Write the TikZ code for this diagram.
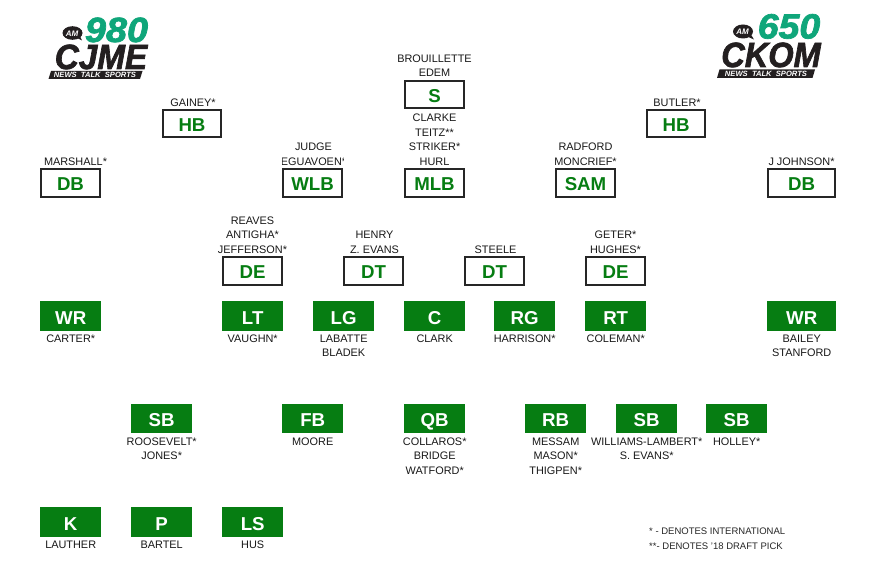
\documentclass[tikz,border=0pt]{standalone}
\usepackage{fontspec}
\setmainfont{Liberation Sans}
\newfontfamily\logofont{Liberation Sans}[BoldFeatures={FakeBold=2},BoldItalicFeatures={FakeBold=2}]
\definecolor{posgreen}{HTML}{067D12}
\definecolor{logogreen}{HTML}{0FA67A}
\definecolor{logoblack}{HTML}{231F20}
\tikzset{x=1pt,y=-1pt,
 defbox/.style={draw=black!85,line width=2pt,fill=white,text=posgreen,font=\fontsize{18.67}{20}\selectfont\bfseries,anchor=north west,inner sep=0pt,align=center,text height=15.5pt,text depth=0pt},
 offbox/.style={fill=posgreen,text=white,font=\fontsize{18.67}{20}\selectfont\bfseries,anchor=north west,inner sep=0pt,align=center,text height=16pt,text depth=0pt},
 names/.style={font=\fontsize{10.9}{14.7}\selectfont,text=black!90,inner sep=0pt,align=center},
 note/.style={font=\fontsize{9.5}{12}\selectfont,text=black!85,inner sep=0pt,anchor=base west},
 logonum/.style={font=\logofont\fontsize{35}{35}\selectfont\bfseries\itshape,text=logogreen,inner sep=0pt,anchor=base},
 logoname/.style={font=\logofont\fontsize{35}{35}\selectfont\bfseries\itshape,text=logoblack,inner sep=0pt,anchor=base},
 logotag/.style={font=\fontsize{7.6}{8}\selectfont\bfseries\itshape,text=white,inner sep=0pt},
 logoam/.style={font=\fontsize{8}{8}\selectfont\bfseries\itshape,text=white,inner sep=0pt},
}
\newcommand{\dbox}[6]{\node[defbox,minimum width=#4pt-2pt,minimum height=#5pt-2pt] (#1) at (#2,#3) {#6};}
\newcommand{\obox}[6]{\node[offbox,minimum width=#4pt,minimum height=#5pt] (#1) at (#2,#3) {#6};}
\begin{document}
\begin{tikzpicture}
\useasboundingbox (0,0) rectangle (885,564);
\fill[white] (0,0) rectangle (885,564);
% logos
\fill[logoblack] (72.5,33) ellipse (10 and 6.8);
\fill[logoblack] (75,37) -- (82,40.5) -- (79,34) -- cycle;
\node[logoam] (am1) at (72,33.3) {AM};
\node[logonum,xscale=1.08] (n1) at (116.5,42) {980};
\node[logoname,xscale=0.95] (c1) at (101,69) {CJME};
\fill[logoblack] (51,71) -- (142.5,71) -- (140,79) -- (48.5,79) -- cycle;
\node[logotag] (t1) at (95,75) {NEWS\ \ TALK\ \ SPORTS};
\fill[logoblack] (743,31.5) ellipse (10 and 7);
\fill[logoblack] (746,36) -- (754,39.5) -- (750,33) -- cycle;
\node[logoam] (am2) at (742.5,32) {AM};
\node[logonum,xscale=1.07] (n2) at (789,38.5) {650};
\node[logoname,xscale=0.93] (c2) at (771,67) {CKOM};
\fill[logoblack] (719.5,69.5) -- (815,69.5) -- (812.5,78) -- (717,78) -- cycle;
\node[logotag] (t2) at (766,74) {NEWS\ \ TALK\ \ SPORTS};
% defence
\dbox{s}{404}{80}{61}{29}{S}
\dbox{hbl}{162}{109}{60}{29}{HB}
\dbox{hbr}{646}{109}{60}{29}{HB}
\dbox{dbl}{40}{168}{61}{30}{DB}
\dbox{wlb}{282}{168}{61}{30}{WLB}
\dbox{mlb}{404}{168}{61}{30}{MLB}
\dbox{sam}{555}{168}{61}{30}{SAM}
\dbox{dbr}{767}{168}{69}{30}{DB}
\dbox{del}{222}{256}{61}{30}{DE}
\dbox{dtl}{343}{256}{61}{30}{DT}
\dbox{dtr}{464}{256}{61}{30}{DT}
\dbox{der}{585}{256}{61}{30}{DE}
% offence
\obox{wrl}{40}{301}{61}{30}{WR}
\obox{lt}{222}{301}{61}{30}{LT}
\obox{lg}{313}{301}{61}{30}{LG}
\obox{c}{404}{301}{61}{30}{C}
\obox{rg}{494}{301}{61}{30}{RG}
\obox{rt}{585}{301}{61}{30}{RT}
\obox{wrr}{767}{301}{69}{30}{WR}
\obox{sbl}{131}{404}{61}{29}{SB}
\obox{fb}{282}{404}{61}{29}{FB}
\obox{qb}{404}{404}{61}{29}{QB}
\obox{rb}{525}{404}{61}{29}{RB}
\obox{sbm}{616}{404}{61}{29}{SB}
\obox{sbr}{706}{404}{61}{29}{SB}
\obox{k}{40}{507}{61}{30}{K}
\obox{p}{131}{507}{61}{30}{P}
\obox{ls}{222}{507}{61}{30}{LS}
% names above
\node[names,anchor=south] (ns) at ([yshift=3pt]s.north) {BROUILLETTE\\EDEM};
\node[names,anchor=south] (nhbl) at ([xshift=1pt,yshift=2pt]hbl.north) {GAINEY*};
\node[names,anchor=south] (nhbr) at ([xshift=1pt,yshift=2pt]hbr.north) {BUTLER*};
\node[names,anchor=south] (ndbl) at ([xshift=5pt,yshift=2pt]dbl.north) {MARSHALL*};
\begin{scope}
\clip (282,135) rectangle (343,168);
\node[names,anchor=south] (nwlb) at ([xshift=1pt,yshift=2pt]wlb.north) {JUDGE\\EGUAVOEN*};
\end{scope}
\node[names,anchor=south] (nmlb) at ([yshift=2pt]mlb.north) {CLARKE\\TEITZ**\\STRIKER*\\HURL};
\node[names,anchor=south] (nsam) at ([yshift=2pt]sam.north) {RADFORD\\MONCRIEF*};
\node[names,anchor=south] (ndbr) at ([yshift=2pt]dbr.north) {J JOHNSON*};
\node[names,anchor=south] (ndel) at ([yshift=2pt]del.north) {REAVES\\ANTIGHA*\\JEFFERSON*};
\node[names,anchor=south] (ndtl) at ([xshift=1pt,yshift=2pt]dtl.north) {HENRY\\Z. EVANS};
\node[names,anchor=south] (ndtr) at ([xshift=1pt,yshift=2pt]dtr.north) {STEELE};
\node[names,anchor=south] (nder) at ([yshift=2pt]der.north) {GETER*\\HUGHES*};
% names below
\node[names,anchor=north] (nwrl) at ([yshift=-3pt]wrl.south) {CARTER*};
\node[names,anchor=north] (nlt) at ([yshift=-3pt]lt.south) {VAUGHN*};
\node[names,anchor=north] (nlg) at ([yshift=-3pt]lg.south) {LABATTE\\BLADEK};
\node[names,anchor=north] (nc) at ([yshift=-3pt]c.south) {CLARK};
\node[names,anchor=north] (nrg) at ([yshift=-3pt]rg.south) {HARRISON*};
\node[names,anchor=north] (nrt) at ([yshift=-3pt]rt.south) {COLEMAN*};
\node[names,anchor=north] (nwrr) at ([yshift=-3pt]wrr.south) {BAILEY\\STANFORD};
\node[names,anchor=north] (nsbl) at ([yshift=-4pt]sbl.south) {ROOSEVELT*\\JONES*};
\node[names,anchor=north] (nfb) at ([yshift=-4pt]fb.south) {MOORE};
\node[names,anchor=north] (nqb) at ([yshift=-4pt]qb.south) {COLLAROS*\\BRIDGE\\WATFORD*};
\node[names,anchor=north] (nrb) at ([yshift=-4pt]rb.south) {MESSAM\\MASON*\\THIGPEN*};
\node[names,anchor=north] (nsbm) at ([yshift=-4pt]sbm.south) {WILLIAMS-LAMBERT*\\S. EVANS*};
\node[names,anchor=north] (nsbr) at ([yshift=-4pt]sbr.south) {HOLLEY*};
\node[names,anchor=north] (nk) at ([yshift=-3pt]k.south) {LAUTHER};
\node[names,anchor=north] (np) at ([yshift=-3pt]p.south) {BARTEL};
\node[names,anchor=north] (nls) at ([yshift=-3pt]ls.south) {HUS};
% notes
\node[note] (note1) at (649,534) {* - DENOTES INTERNATIONAL};
\node[note] (note2) at (649,549) {**- DENOTES '18 DRAFT PICK};
\end{tikzpicture}
\end{document}
